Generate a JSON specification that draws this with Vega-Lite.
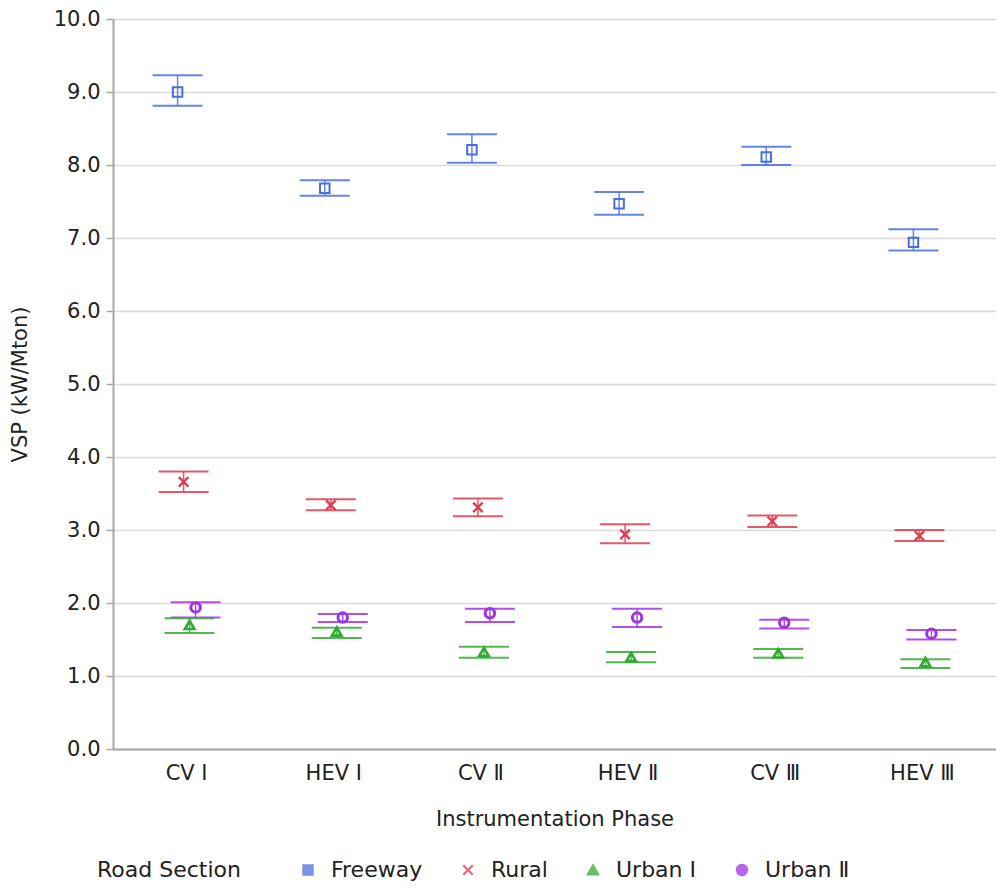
{
  "$schema": "https://vega.github.io/schema/vega-lite/v6.json",
  "width": 883,
  "height": 730,
  "autosize": {"type": "none"},
  "padding": {"left": 113, "top": 19, "right": 0, "bottom": 139},
  "background": "white",
  "config": {
    "font": "DejaVu Sans",
    "view": {"stroke": null},
    "legend": {
      "orient": "none",
      "legendX": -16,
      "legendY": 840,
      "direction": "horizontal",
      "titleOrient": "left",
      "titleFontSize": 22,
      "titleFontWeight": "normal",
      "titleColor": "#222",
      "titleBaseline": "middle",
      "titlePadding": 56,
      "labelFontSize": 22,
      "labelColor": "#222",
      "labelOffset": 12,
      "columnPadding": 34,
      "symbolSize": 70,
      "symbolStrokeWidth": 1.5,
      "symbolOpacity": 0.75
    }
  },
  "data": {
    "values": [
      {"phase": "CV Ⅰ", "section": "Freeway", "mean": 9.0, "lo": 8.81, "hi": 9.23},
      {"phase": "HEV Ⅰ", "section": "Freeway", "mean": 7.68, "lo": 7.58, "hi": 7.79},
      {"phase": "CV Ⅱ", "section": "Freeway", "mean": 8.21, "lo": 8.03, "hi": 8.42},
      {"phase": "HEV Ⅱ", "section": "Freeway", "mean": 7.47, "lo": 7.32, "hi": 7.63},
      {"phase": "CV Ⅲ", "section": "Freeway", "mean": 8.11, "lo": 8.0, "hi": 8.25},
      {"phase": "HEV Ⅲ", "section": "Freeway", "mean": 6.94, "lo": 6.83, "hi": 7.12},
      {"phase": "CV Ⅰ", "section": "Rural", "mean": 3.66, "lo": 3.52, "hi": 3.8},
      {"phase": "HEV Ⅰ", "section": "Rural", "mean": 3.34, "lo": 3.27, "hi": 3.42},
      {"phase": "CV Ⅱ", "section": "Rural", "mean": 3.31, "lo": 3.19, "hi": 3.43},
      {"phase": "HEV Ⅱ", "section": "Rural", "mean": 2.94, "lo": 2.82, "hi": 3.08},
      {"phase": "CV Ⅲ", "section": "Rural", "mean": 3.12, "lo": 3.04, "hi": 3.2},
      {"phase": "HEV Ⅲ", "section": "Rural", "mean": 2.92, "lo": 2.85, "hi": 3.0},
      {"phase": "CV Ⅰ", "section": "Urban Ⅰ", "mean": 1.7, "lo": 1.59, "hi": 1.79},
      {"phase": "HEV Ⅰ", "section": "Urban Ⅰ", "mean": 1.61, "lo": 1.52, "hi": 1.66},
      {"phase": "CV Ⅱ", "section": "Urban Ⅰ", "mean": 1.33, "lo": 1.25, "hi": 1.4},
      {"phase": "HEV Ⅱ", "section": "Urban Ⅰ", "mean": 1.26, "lo": 1.19, "hi": 1.33},
      {"phase": "CV Ⅲ", "section": "Urban Ⅰ", "mean": 1.31, "lo": 1.25, "hi": 1.37},
      {"phase": "HEV Ⅲ", "section": "Urban Ⅰ", "mean": 1.19, "lo": 1.11, "hi": 1.23},
      {"phase": "CV Ⅰ", "section": "Urban Ⅱ", "mean": 1.94, "lo": 1.8, "hi": 2.01},
      {"phase": "HEV Ⅰ", "section": "Urban Ⅱ", "mean": 1.8, "lo": 1.74, "hi": 1.85},
      {"phase": "CV Ⅱ", "section": "Urban Ⅱ", "mean": 1.86, "lo": 1.74, "hi": 1.92},
      {"phase": "HEV Ⅱ", "section": "Urban Ⅱ", "mean": 1.8, "lo": 1.67, "hi": 1.92},
      {"phase": "CV Ⅲ", "section": "Urban Ⅱ", "mean": 1.73, "lo": 1.65, "hi": 1.77},
      {"phase": "HEV Ⅲ", "section": "Urban Ⅱ", "mean": 1.58, "lo": 1.5, "hi": 1.63}
    ]
  },
  "encoding": {
    "x": {
      "field": "phase",
      "type": "nominal",
      "sort": ["CV Ⅰ", "HEV Ⅰ", "CV Ⅱ", "HEV Ⅱ", "CV Ⅲ", "HEV Ⅲ"],
      "scale": {"paddingInner": 0, "paddingOuter": 0},
      "axis": {
        "title": "Instrumentation Phase",
        "labelAngle": 0,
        "ticks": false,
        "grid": false,
        "domainColor": "#a6a6a6",
        "domainWidth": 2,
        "labelFontSize": 21,
        "labelColor": "#222",
        "labelPadding": 13,
        "titleFontSize": 21,
        "titleFontWeight": "normal",
        "titleColor": "#222",
        "titlePadding": 25
      }
    },
    "xOffset": {
      "field": "section",
      "type": "nominal",
      "sort": ["Freeway", "Rural", "Urban Ⅰ", "Urban Ⅱ"],
      "scale": {"type": "point", "range": [64.6, 82.6], "padding": 0}
    }
  },
  "layer": [
    {
      "mark": {"type": "point", "filled": false, "fill": "transparent", "opacity": 1},
      "encoding": {
        "y": {
          "field": "mean",
          "type": "quantitative",
          "scale": {"domain": [0, 10], "nice": false},
          "axis": {
            "values": [0, 0.5, 1, 1.5, 2, 2.5, 3, 3.5, 4, 4.5, 5, 5.5, 6, 6.5, 7, 7.5, 8, 8.5, 9, 9.5, 10],
            "format": ".1f",
            "title": "VSP (kW/Mton)",
            "labelOpacity": {"condition": {"test": "datum.value % 1 !== 0", "value": 0}, "value": 1},
            "gridOpacity": {"condition": {"test": "datum.value % 1 !== 0", "value": 0}, "value": 1},
            "tickSize": {"condition": {"test": "datum.value % 1 !== 0", "value": 4}, "value": 7},
            "domainColor": "#a6a6a6",
            "domainWidth": 2,
            "tickColor": "#a6a6a6",
            "tickWidth": 1.5,
            "gridColor": "#d9d9d9",
            "gridWidth": 1.5,
            "labelFontSize": 21,
            "labelColor": "#222",
            "labelPadding": 6,
            "titleFontSize": 21,
            "titleFontWeight": "normal",
            "titleColor": "#222",
            "titleX": -93,
            "titleY": 365,
            "titleAngle": -90,
            "titleAlign": "center",
            "titleBaseline": "middle"
          }
        },
        "color": {
          "field": "section",
          "type": "nominal",
          "sort": ["Freeway", "Rural", "Urban Ⅰ", "Urban Ⅱ"],
          "scale": {"domain": ["Freeway", "Rural", "Urban Ⅰ", "Urban Ⅱ"], "range": ["#4a6ee0", "#dc3c50", "#33aa33", "#a032e6"]},
          "legend": {"title": "Road Section"}
        },
        "strokeWidth": {
          "field": "section",
          "type": "nominal",
          "scale": {"domain": ["Freeway", "Rural", "Urban Ⅰ", "Urban Ⅱ"], "range": [2, 3, 1.2, 1.8]},
          "legend": null
        },
        "size": {
          "field": "section",
          "type": "nominal",
          "scale": {"domain": ["Freeway", "Rural", "Urban Ⅰ", "Urban Ⅱ"], "range": [90, 90, 170, 90]},
          "legend": null
        },
        "shape": {
          "field": "section",
          "type": "nominal",
          "sort": ["Freeway", "Rural", "Urban Ⅰ", "Urban Ⅱ"],
          "scale": {"domain": ["Freeway", "Rural", "Urban Ⅰ", "Urban Ⅱ"], "range": ["square", "M-1,-1L1,1M-1,1L1,-1", "triangle-up", "circle"]},
          "legend": {"title": "Road Section"}
        }
      }
    },
    {
      "mark": {"type": "rule", "strokeWidth": 1.5, "opacity": 0.85},
      "encoding": {
        "y": {"field": "lo", "type": "quantitative"},
        "y2": {"field": "hi"},
        "color": {"field": "section", "type": "nominal", "legend": null}
      }
    },
    {
      "mark": {"type": "tick", "thickness": 2, "size": 50, "opacity": 0.85},
      "encoding": {
        "y": {"field": "lo", "type": "quantitative"},
        "color": {"field": "section", "type": "nominal", "legend": null}
      }
    },
    {
      "mark": {"type": "tick", "thickness": 2, "size": 50, "opacity": 0.85},
      "encoding": {
        "y": {"field": "hi", "type": "quantitative"},
        "color": {"field": "section", "type": "nominal", "legend": null}
      }
    }
  ]
}
